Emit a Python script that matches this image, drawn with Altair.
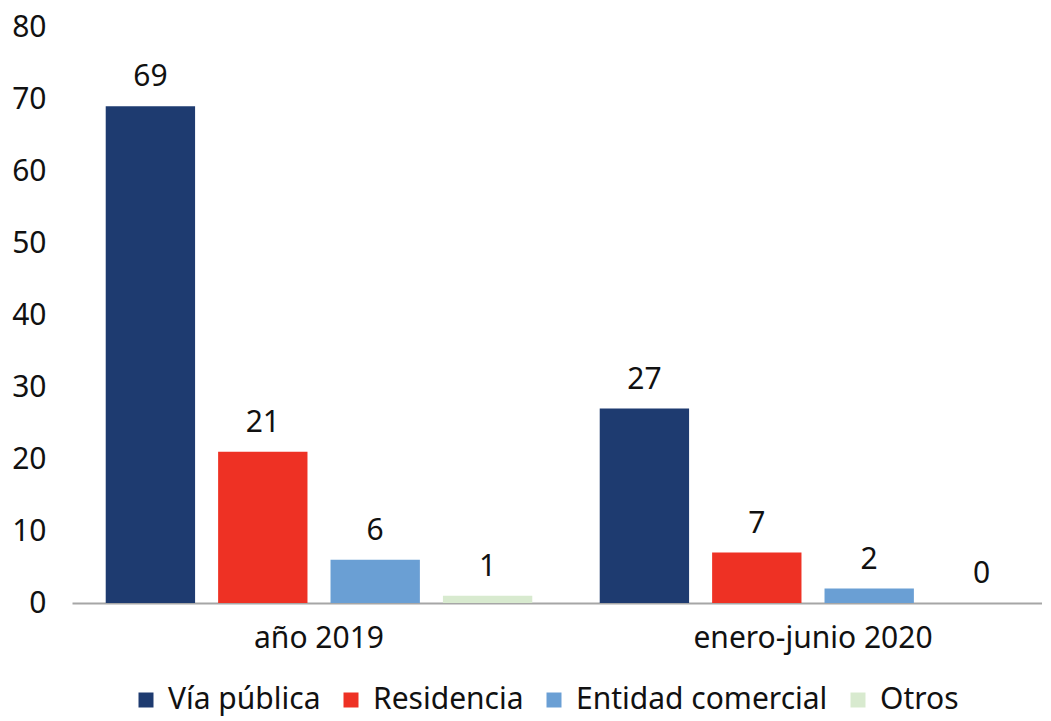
import altair as alt
import pandas as pd

groups = ["año 2019", "enero-junio 2020"]
series = ["Vía pública", "Residencia", "Entidad comercial", "Otros"]
values_2019 = [69, 21, 6, 1]
values_2020 = [27, 7, 2, 0]
colors = ["#1E3B70", "#EE3124", "#6A9FD4", "#D8EACF"]

rows = []
for g, vals in zip(groups, [values_2019, values_2020]):
    for s, v in zip(series, vals):
        rows.append({"grupo": g, "serie": s, "valor": v})
df = pd.DataFrame(rows)

FONT = "Noto Sans"

base = alt.Chart(df).encode(
    x=alt.X("grupo:N", sort=groups, title=None,
            scale=alt.Scale(paddingInner=0, paddingOuter=0),
            axis=alt.Axis(labelAngle=0, labelFontSize=30, labelFont=FONT,
                          labelColor="#111111", ticks=False, domainColor="#A6A6A6",
                          domainWidth=2, labelPadding=20, labelLimit=600)),
    xOffset=alt.XOffset("serie:N", sort=series,
                        scale=alt.Scale(paddingInner=0.205, paddingOuter=0.30)),
)

bars = base.mark_bar().encode(
    y=alt.Y("valor:Q", title=None,
            scale=alt.Scale(domain=[0, 80]),
            axis=alt.Axis(values=list(range(0, 81, 10)), grid=False, domain=False,
                          ticks=False, labelFontSize=30, labelFont=FONT,
                          labelColor="#111111", labelPadding=26)),
    color=alt.Color("serie:N", sort=series,
                    scale=alt.Scale(domain=series, range=colors),
                    legend=alt.Legend(title=None, orient="none", direction="horizontal",
                                      columns=4, legendX=59, legendY=658,
                                      symbolType="square", symbolSize=225,
                                      symbolStrokeWidth=0, labelFontSize=30,
                                      labelFont=FONT, labelColor="#111111",
                                      labelOffset=7, columnPadding=15,
                                      labelLimit=500)),
)

labels = base.mark_text(baseline="bottom", dy=-14, fontSize=30, font=FONT,
                        color="#111111").encode(
    y=alt.Y("valor:Q"),
    text=alt.Text("valor:Q"),
)

chart = alt.layer(bars, labels).properties(
    width=988, height=576,
    autosize=alt.AutoSizeParams(type="none"),
    padding={"left": 64, "top": 19, "right": -18, "bottom": 118},
).configure_view(stroke=None)

chart.save("out.html", embed_options={"renderer": "svg", "actions": False})
